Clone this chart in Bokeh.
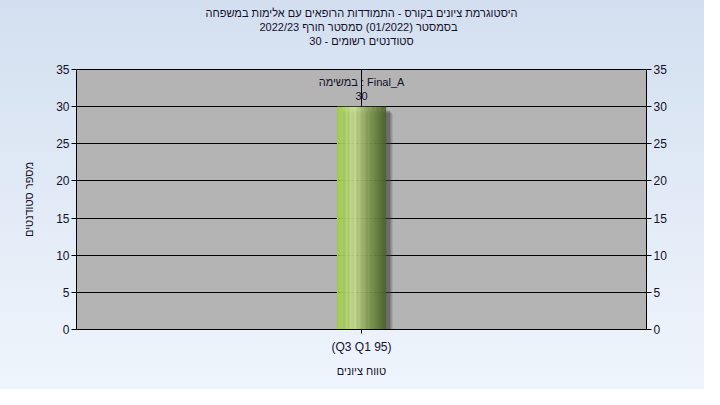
import numpy as np
from bokeh.plotting import figure
from bokeh.models import Range1d, LinearAxis, SingleIntervalTicker, FixedTicker, Label, Title
from bokeh.embed import file_html
from bokeh.resources import INLINE

# ---- data ----
categories = ["(Q3 Q1 95)"]
counts = [30]
series_name = "Final_A"
title_lines = [
    "היסטוגרמת ציונים בקורס - התמודדות הרופאים עם אלימות במשפחה",
    "בסמסטר  (01/2022)  סמסטר חורף 2022/23",
    "סטודנטים רשומים - 30",
]
y_label = "מספר סטודנטים"
x_label = "טווח ציונים"
y_max = 35
y_step = 5

FONT = "Liberation Sans"
TXT = "#14102a"

W, H = 704, 389
BL, BR, BT, BB = 76, 58, 69, 60
frame_w = W - BL - BR
frame_h = H - BT - BB

p = figure(width=W, height=H, output_backend="svg", toolbar_location=None,
           x_range=Range1d(0, len(categories)), y_range=Range1d(0, y_max),
           min_border_left=BL, min_border_right=BR, min_border_top=BT, min_border_bottom=BB)

# titles: panels stack outward from the frame in the order added, p.title outermost
def style_title(t, standoff=0):
    t.align = "center"
    t.text_font = FONT
    t.text_font_size = "11px"
    t.text_font_style = "normal"
    t.text_color = TXT
    t.offset = -7
    t.standoff = standoff

p.title.text = title_lines[0]
style_title(p.title)
spacer = Title(text=" "); style_title(spacer, standoff=9)
p.add_layout(spacer, "above")
t3 = Title(text=title_lines[2]); style_title(t3)
p.add_layout(t3, "above")
t2 = Title(text=title_lines[1]); style_title(t2)
p.add_layout(t2, "above")

p.styles = {"background-image": "linear-gradient(#d3dff0, #eff5fc)"}
p.border_fill_color = None
p.border_fill_alpha = 0
p.background_fill_color = "#b4b4b4"
p.outline_line_color = "black"
p.outline_line_width = 1

# bar geometry
bar_w = 0.086
centers = np.arange(len(categories)) + 0.5
px_x = len(categories) / frame_w
px_y = y_max / frame_h

# shadow
for k, a in [(7, 0.10), (6, 0.16), (5, 0.22), (4, 0.3)]:
    p.quad(left=centers - bar_w / 2 + k * px_x, right=centers + bar_w / 2 + k * px_x,
           bottom=[-1] * len(counts), top=np.array(counts) - k * px_y,
           fill_color="#3a3a3a", fill_alpha=a, line_color=None)

# gradient bar built from slices
stops = [(0.0, (156, 204, 68)), (0.35, (204, 228, 146)), (0.62, (140, 166, 88)), (1.0, (72, 98, 38))]
N = 60
for ci, (c, v) in enumerate(zip(centers, counts)):
    edges = np.linspace(c - bar_w / 2, c + bar_w / 2, N + 1)
    lefts, rights, cols = [], [], []
    for i in range(N):
        t = (i + 0.5) / N
        for j in range(len(stops) - 1):
            if stops[j][0] <= t <= stops[j + 1][0]:
                f = (t - stops[j][0]) / (stops[j + 1][0] - stops[j][0])
                rgb = [int(round(stops[j][1][k] + f * (stops[j + 1][1][k] - stops[j][1][k]))) for k in range(3)]
                break
        lefts.append(edges[i]); rights.append(edges[i + 1] + 0.0003)
        cols.append("#%02x%02x%02x" % tuple(rgb))
    p.quad(left=lefts, right=rights, bottom=[0] * N, top=[v] * N, fill_color=cols, line_color=None)

    # vertical pointer line from top to bar
    p.segment(x0=[c], y0=[v], x1=[c], y1=[y_max], line_color="black", line_width=1)
    p.add_layout(Label(x=c, y=v, text=str(v), text_align="center", text_baseline="bottom",
                       y_offset=7, text_font=FONT, text_font_size="11px", text_color=TXT))
    p.add_layout(Label(x=c, y=v, text="במשימה : " + series_name, text_align="center",
                       text_baseline="bottom", y_offset=19, text_font=FONT, text_font_size="11px",
                       text_color=TXT))

# grid
p.xgrid.visible = False
p.ygrid.grid_line_color = "black"
p.ygrid.grid_line_width = 1
p.ygrid.ticker = SingleIntervalTicker(interval=y_step)

# axes
def style_axis(ax):
    ax.axis_line_color = "black"
    ax.major_tick_line_color = "black"
    ax.major_tick_in = 0
    ax.major_tick_out = 5
    ax.minor_tick_line_color = None
    ax.major_label_text_font = FONT
    ax.major_label_text_font_size = "12px"
    ax.major_label_text_color = TXT
    ax.major_label_standoff = 2
    ax.axis_label_text_font = FONT
    ax.axis_label_text_font_size = "11px"
    ax.axis_label_text_font_style = "normal"
    ax.axis_label_text_color = TXT

p.yaxis.ticker = SingleIntervalTicker(interval=y_step)
style_axis(p.yaxis[0])
p.yaxis.axis_label = y_label
p.yaxis.axis_label_standoff = 18

ra = LinearAxis(ticker=SingleIntervalTicker(interval=y_step))
style_axis(ra)
p.add_layout(ra, "right")

p.xaxis.ticker = FixedTicker(ticks=list(centers))
p.xaxis.major_label_overrides = {float(c): cat for c, cat in zip(centers, categories)}
style_axis(p.xaxis[0])
p.xaxis.major_tick_out = 4
p.xaxis.major_label_standoff = 6
p.xaxis.axis_label = x_label
p.xaxis.axis_label_standoff = 8

open("out.html", "w").write(file_html(p, INLINE))
